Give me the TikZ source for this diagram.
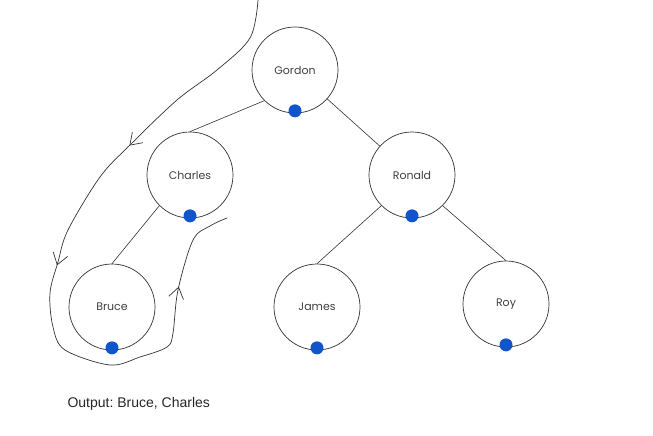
\documentclass[tikz,border=0pt]{standalone}
\usepackage{fontspec}
\setmainfont{Liberation Sans}
\newfontfamily\roundfont{Poppins}
\usetikzlibrary{arrows.meta,decorations.markings}
\definecolor{dotblue}{RGB}{17,85,204}
\frenchspacing

\begin{document}
\begin{tikzpicture}[x=1pt,y=-1pt,
  person/.style={draw=black!80, circle, minimum size=86pt, inner sep=0pt,
    line width=0.7pt, text=black!75, font=\roundfont\fontsize{11}{12}\selectfont},
  edge/.style={draw=black!80, line width=0.6pt},
  dot/.style={fill=dotblue, circle, minimum size=13pt, inner sep=0pt},
  walk/.style={draw=black!80, line width=0.7pt}]

  \newcommand\Barb{\arrow{Straight Barb[length=11pt,width=15pt]}}

  \useasboundingbox (0,0) rectangle (653,436);

  %% tree
  \node[person] (gordon)  at (295,70)  {Gordon};
  \node[person] (charles) at (190,175) {Charles};
  \node[person] (ronald)  at (412,175) {Ronald};
  \node[person] (bruce)   at (112,307) {Bruce};
  \node[person] (james)   at (317,307) {James};
  \node[person] (roy)     at (506,304) {Roy};

  %% parent to child
  \draw[edge] (gordon.225) -- (charles.north);
  \draw[edge] (gordon) -- (ronald);
  \draw[edge] (charles.225) -- (bruce.north);
  \draw[edge] (ronald.225) -- (james.north);
  \draw[edge] (ronald.315) -- (roy.north);

  %% blue dots
  \foreach \n in {gordon,charles,ronald,bruce,james,roy}
    \node[dot] (\n dot) at ([yshift=2.5pt]\n.south) {};

  %% walk round the left side
  \draw[walk, postaction={decorate},
    decoration={markings,
      mark=at position 0.29 with {\Barb},
      mark=at position 0.495 with {\Barb},
      mark=at position 0.87 with {\Barb}}]
    plot[smooth, tension=0.55] coordinates {
      (258,0) (250,38) (217,70) (177,100) (130,145) (100,177) (68,230)
      (58,262) (50,293) (53,327) (65,350) (110,365) (140,357) (167,347)
      (173,333) (178,290) (193,240) (210,226) (227,218)};

  %% result
  \node[anchor=west, text=black!85, font=\fontsize{14}{16}\selectfont]
    (output) at (64,404) {Output: Bruce, Charles};

\end{tikzpicture}
\end{document}
